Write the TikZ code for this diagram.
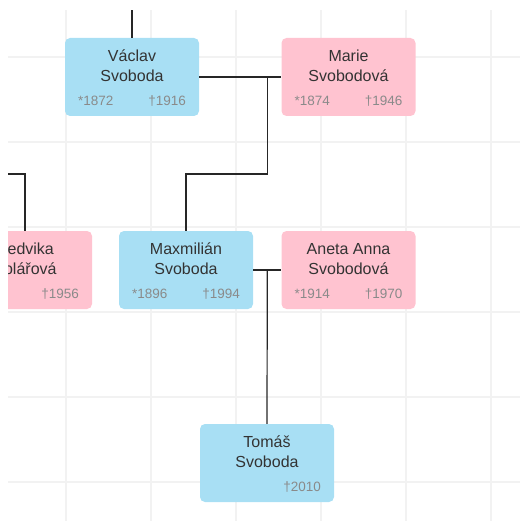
\documentclass[tikz,border=0pt]{standalone}
\usepackage{fontspec}
\setmainfont{Liberation Sans}
\usetikzlibrary{positioning,calc}

\definecolor{manblue}{HTML}{A8DFF4}
\definecolor{womanpink}{HTML}{FFC3D0}
\definecolor{gridgray}{HTML}{F2F2F2}
\definecolor{nametext}{HTML}{333333}
\definecolor{datetext}{HTML}{8A8A8A}

\begin{document}
\begin{tikzpicture}[
      x=1pt, y=-1pt,
      person/.style={rectangle, rounded corners=5pt, minimum width=134pt,
        minimum height=78pt, inner sep=0pt},
      man/.style={person, fill=manblue},
      woman/.style={person, fill=womanpink},
      fullname/.style={align=center, inner sep=0pt, text=nametext,
        font=\fontsize{16}{20}\selectfont, anchor=base},
      born/.style={inner sep=0pt, text=datetext,
        font=\fontsize{13.5}{16}\selectfont, anchor=base west},
      died/.style={born, anchor=base east},
      link/.style={draw=black!85, line width=1.2pt}
    ]

    \useasboundingbox (0,0) rectangle (520,521);

    % background grid
    \foreach \x in {66,151,236,321,406,491}
      \draw[gridgray, line width=1.5pt] (\x,10) -- (\x,521);
    \foreach \y in {57,142,227,312,397,482}
      \draw[gridgray, line width=1.5pt] (8,\y) -- (520,\y);

    \begin{scope}
    \clip (8,0) rectangle (520,521);

    % people
    \node[man] (vaclav) at (132,77) {};
    \node[woman] (marie) at (348.5,77) {};
    \node[woman] (hedvika) at (25,270) {};
    \node[man] (maxmilian) at (186,270) {};
    \node[woman] (aneta) at (348.5,270) {};
    \node[man] (tomas) at (267,463) {};

    \node[fullname] at ([yshift=-44pt]vaclav.north) {Václav\\Svoboda};
    \node[born] at ([xshift=13pt,yshift=-68pt]vaclav.north west) {*1872};
    \node[died] at ([xshift=-13pt,yshift=-68pt]vaclav.north east) {†1916};

    \node[fullname] at ([yshift=-44pt]marie.north) {Marie\\Svobodová};
    \node[born] at ([xshift=13pt,yshift=-68pt]marie.north west) {*1874};
    \node[died] at ([xshift=-13pt,yshift=-68pt]marie.north east) {†1946};

    \node[fullname] at ([yshift=-44pt]hedvika.north) {Hedvika\\Kolářová};
    \node[died] at ([xshift=-13pt,yshift=-68pt]hedvika.north east) {†1956};

    \node[fullname] at ([yshift=-44pt]maxmilian.north) {Maxmilián\\Svoboda};
    \node[born] at ([xshift=13pt,yshift=-68pt]maxmilian.north west) {*1896};
    \node[died] at ([xshift=-13pt,yshift=-68pt]maxmilian.north east) {†1994};

    \node[fullname] at ([yshift=-44pt]aneta.north) {Aneta Anna\\Svobodová};
    \node[born] at ([xshift=13pt,yshift=-68pt]aneta.north west) {*1914};
    \node[died] at ([xshift=-13pt,yshift=-68pt]aneta.north east) {†1970};

    \node[fullname] at ([yshift=-44pt]tomas.north) {Tomáš\\Svoboda};
    \node[died] at ([xshift=-13pt,yshift=-68pt]tomas.north east) {†2010};

    % links
    \coordinate (vaclavup) at (132,10);
    \coordinate (hedvikaup) at (0,174);
    \coordinate (couple1) at ([xshift=-14pt]marie.west);
    \coordinate (couple2) at ([xshift=-14pt]aneta.west);

    \draw[link] (vaclav.north) -- (vaclavup);
    \draw[link] (vaclav.east) -- (marie.west);
    \draw[link] (couple1) |- ++(0,97) -| (maxmilian.north);
    \draw[link] (hedvika.north) |- (hedvikaup);
    \draw[link] (maxmilian.east) -- (aneta.west);
    \draw[link] (couple2) -- (tomas.north);
    \end{scope}

    \end{tikzpicture}
\end{document}
